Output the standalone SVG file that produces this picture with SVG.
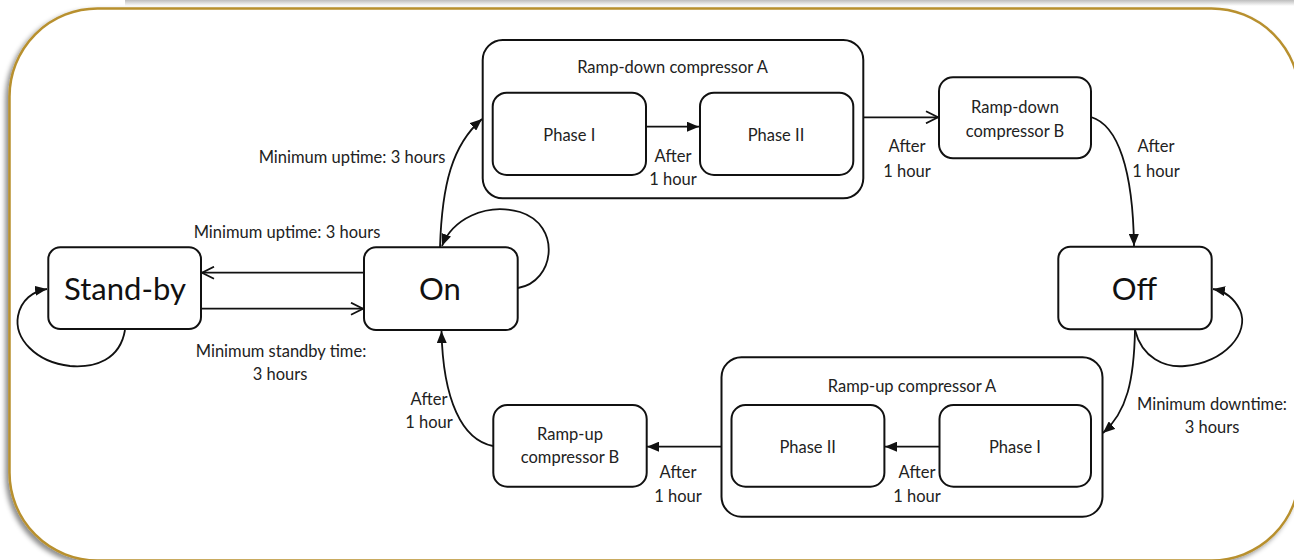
<svg xmlns="http://www.w3.org/2000/svg" width="1294" height="560" viewBox="0 0 1294 560">
<style>
.box{fill:#fff;stroke:#111;stroke-width:2}
.conn{fill:none;stroke:#111;stroke-width:1.8}
.lbl{font-family:Lato,"Open Sans","Liberation Sans",sans-serif;font-size:16.5px;fill:#222;text-anchor:middle}
.big{font-size:31px;fill:#111}
</style>
<defs>
<linearGradient id="topShade" x1="0" y1="0" x2="0" y2="1">
<stop offset="0" stop-color="#bdbdbd"/>
<stop offset="1" stop-color="#ffffff"/>
</linearGradient>
<filter id="frameShadow" x="-5%" y="-5%" width="110%" height="115%">
<feDropShadow dx="-3" dy="3" stdDeviation="2.5" flood-color="#000" flood-opacity="0.45"/>
</filter>
<marker id="fill" viewBox="0 0 12 10" refX="12" refY="5" markerWidth="12" markerHeight="10" markerUnits="userSpaceOnUse" orient="auto">
<path d="M0,0 L12,5 L0,10 z" fill="#111"/>
</marker>
<marker id="open" viewBox="0 0 14 14" refX="13" refY="7" markerWidth="14" markerHeight="14" markerUnits="userSpaceOnUse" orient="auto">
<path d="M1,1 L13,7 L1,13" fill="none" stroke="#111" stroke-width="1.8"/>
</marker>
</defs>
<rect x="0" y="0" width="1294" height="560" fill="#fff"/>
<rect x="125" y="0" width="1169" height="6" fill="url(#topShade)"/>
<g id="frame">
<rect x="9.5" y="8.5" width="1290" height="552" rx="88" ry="88" fill="#fff" stroke="#B8902E" stroke-width="2.5" filter="url(#frameShadow)"/>
</g>
<g id="connectors">
<path class="conn" d="M364,272.7 L202,272.7" marker-end="url(#open)"/>
<path class="conn" d="M201,308.7 L363,308.7" marker-end="url(#open)"/>
<path class="conn" d="M125,330 C120,360 95,368 70,366 C35,362 14,338 18,316 C21,300 33,291 47,289" marker-end="url(#fill)"/>
<path class="conn" d="M440,247 C442,185 452,145 482,119" marker-end="url(#fill)"/>
<path class="conn" d="M518,288 C555,282 562,225 520,212 C485,202 452,220 442,246" marker-end="url(#fill)"/>
<path class="conn" d="M646,126.7 L699,126.7" marker-end="url(#fill)"/>
<path class="conn" d="M863,117.3 L938,117.3" marker-end="url(#open)"/>
<path class="conn" d="M1091,117 C1118,125 1133,170 1134,246" marker-end="url(#fill)"/>
<path class="conn" d="M1135,330 C1142,358 1165,368 1185,366 C1225,362 1250,333 1240,310 C1234,298 1224,291 1213,289" marker-end="url(#fill)"/>
<path class="conn" d="M1135,330 C1134,380 1127,412 1103,433" marker-end="url(#fill)"/>
<path class="conn" d="M939,446.7 L885,446.7" marker-end="url(#fill)"/>
<path class="conn" d="M721.5,446.7 L647,446.7" marker-end="url(#fill)"/>
<path class="conn" d="M493,446 C462,440 443,400 441.5,331" marker-end="url(#fill)"/>
<text class="lbl" x="287" y="238">Minimum uptime: 3 hours</text>
<text class="lbl" x="281" y="357">Minimum standby time:</text>
<text class="lbl" x="280" y="380">3 hours</text>
<text class="lbl" x="352" y="163">Minimum uptime: 3 hours</text>
<text class="lbl" x="673" y="161.5">After</text>
<text class="lbl" x="673" y="185">1 hour</text>
<text class="lbl" x="907" y="151.5">After</text>
<text class="lbl" x="907" y="176.5">1 hour</text>
<text class="lbl" x="1156" y="151.5">After</text>
<text class="lbl" x="1156" y="176.5">1 hour</text>
<text class="lbl" x="1212" y="410">Minimum downtime:</text>
<text class="lbl" x="1212" y="433">3 hours</text>
<text class="lbl" x="917" y="478">After</text>
<text class="lbl" x="917" y="501.5">1 hour</text>
<text class="lbl" x="678" y="478">After</text>
<text class="lbl" x="678" y="501.5">1 hour</text>
<text class="lbl" x="429" y="405">After</text>
<text class="lbl" x="429" y="428">1 hour</text>
</g>
<g id="standby">
<rect class="box" x="48.3" y="247.3" width="152.7" height="81.7" rx="12"/>
<text class="lbl big" x="125" y="299.5">Stand-by</text>
</g>
<g id="on">
<rect class="box" x="364" y="247.3" width="153.7" height="82.7" rx="12"/>
<text class="lbl big" x="440" y="299.5">On</text>
</g>
<g id="off">
<rect class="box" x="1058.3" y="246.7" width="153.4" height="82.6" rx="12"/>
<text class="lbl big" x="1134.5" y="299.5">Off</text>
</g>
<g id="rampdownA">
<rect class="box" x="482.7" y="40" width="380.6" height="158.3" rx="20" fill="none" style="fill:none"/>
<text class="lbl" x="672.5" y="73.3">Ramp-down compressor A</text>
</g>
<g id="rampdownA-phase1">
<rect class="box" x="492.7" y="92.7" width="153.3" height="82.3" rx="14"/>
<text class="lbl" x="569.3" y="140.7">Phase I</text>
</g>
<g id="rampdownA-phase2">
<rect class="box" x="700" y="92.7" width="153.3" height="82.3" rx="14"/>
<text class="lbl" x="776" y="140.7">Phase II</text>
</g>
<g id="rampdownB">
<rect class="box" x="939" y="77.3" width="152" height="81" rx="14"/>
<text class="lbl" x="1015" y="112.7">Ramp-down</text>
<text class="lbl" x="1015" y="136.7">compressor B</text>
</g>
<g id="rampupA">
<rect class="box" x="721.5" y="357.3" width="381" height="159.4" rx="20" style="fill:none"/>
<text class="lbl" x="912" y="391.7">Ramp-up compressor A</text>
</g>
<g id="rampupA-phase2">
<rect class="box" x="731.5" y="405" width="152.9" height="81.7" rx="14"/>
<text class="lbl" x="807.7" y="453.3">Phase II</text>
</g>
<g id="rampupA-phase1">
<rect class="box" x="939.5" y="405" width="151.5" height="81.7" rx="14"/>
<text class="lbl" x="1015" y="453.3">Phase I</text>
</g>
<g id="rampupB">
<rect class="box" x="493.3" y="405" width="153.4" height="81.7" rx="14"/>
<text class="lbl" x="570" y="440">Ramp-up</text>
<text class="lbl" x="570" y="463.3">compressor B</text>
</g>
</svg>
